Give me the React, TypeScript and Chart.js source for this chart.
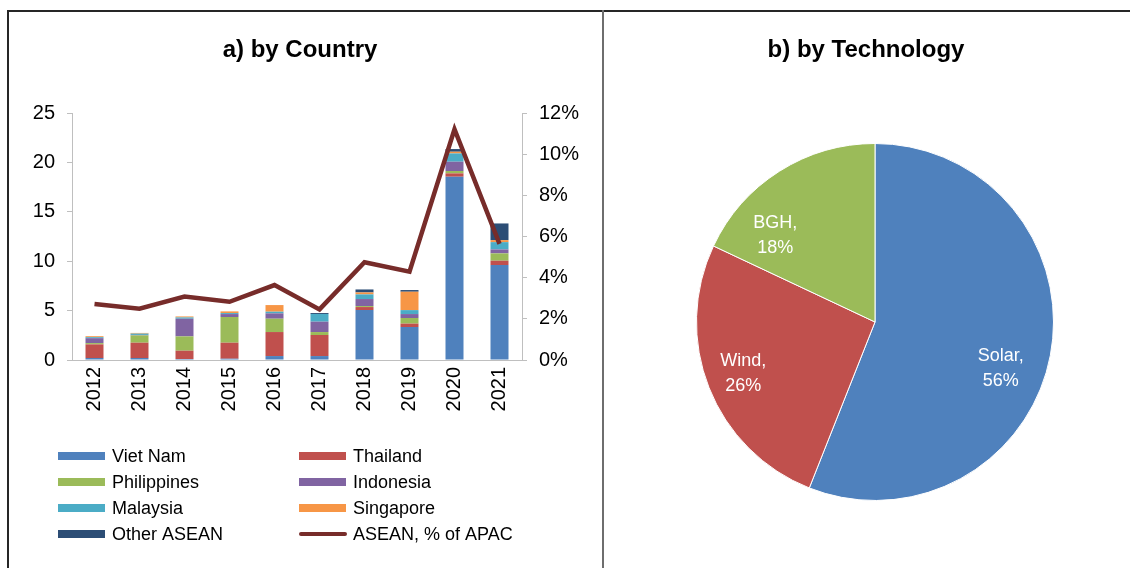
import React, { useEffect, useRef } from 'react';
import { Chart, registerables } from 'chart.js';
Chart.register(...registerables);

const FONT = '"Liberation Sans", Arial, sans-serif';

// ---- data: a) by Country ----
const years = ['2012', '2013', '2014', '2015', '2016', '2017', '2018', '2019', '2020', '2021'];
const vietNam = [0.2, 0.2, 0.1, 0.13, 0.4, 0.4, 5.06, 3.34, 18.55, 9.61];
const thailand = [1.38, 1.55, 0.84, 1.62, 2.43, 2.13, 0.3, 0.34, 0.34, 0.44];
const philippines = [0.13, 0.74, 1.45, 2.6, 1.35, 0.3, 0.1, 0.57, 0.24, 0.74];
const indonesia = [0.5, 0.05, 1.79, 0.3, 0.54, 1.05, 0.71, 0.4, 0.94, 0.4];
const malaysia = [0.1, 0.13, 0.13, 0.1, 0.17, 0.78, 0.47, 0.4, 0.84, 0.74];
const singapore = [0.1, 0.07, 0.1, 0.17, 0.67, 0.0, 0.2, 1.86, 0.17, 0.2];
const otherAsean = [0.0, 0.0, 0.0, 0.0, 0.0, 0.1, 0.3, 0.17, 0.27, 1.69];
const aseanShareOfApac = [2.72, 2.49, 3.08, 2.83, 3.64, 2.46, 4.75, 4.29, 11.21, 5.64];

const countryNames = ['Viet Nam', 'Thailand', 'Philippines', 'Indonesia', 'Malaysia', 'Singapore', 'Other ASEAN'];
const countryColors = ['#4f81bd', '#c0504d', '#9bbb59', '#8064a2', '#4bacc6', '#f79646', '#2c4d75'];
const lineName = 'ASEAN, % of APAC';
const lineColor = '#772c2a';

// ---- data: b) by Technology ----
const techLabels = ['Solar', 'Wind', 'BGH'];
const techShares = [56, 26, 18];
const techColors = ['#4f81bd', '#c0504d', '#9bbb59'];

// label placement tweaks (style only)
const labelAngleAdjust = [9.2, 0.6, -16.6];
const labelRadius = [0.75, 0.79, 0.74];

function titlePlugin(text: string, x: number, y: number) {
  return {
    id: 'pageTitle',
    afterDraw(chart: any) {
      const ctx = chart.ctx;
      ctx.save();
      ctx.font = `bold 24px ${FONT}`;
      ctx.fillStyle = '#000';
      ctx.textAlign = 'center';
      ctx.textBaseline = 'middle';
      ctx.fillText(text, x, y);
      ctx.restore();
    },
  };
}

const gridLegendPlugin = {
  id: 'gridLegend',
  afterDraw(chart: any) {
    const ctx = chart.ctx;
    const ds = chart.data.datasets;
    ctx.save();
    ds.forEach((d: any, i: number) => {
      const col = i % 2;
      const row = Math.floor(i / 2);
      const bx = col === 0 ? 49 : 290;
      const cy = 444 + row * 26;
      if (d.type === 'line') {
        ctx.strokeStyle = d.borderColor;
        ctx.lineWidth = 4;
        ctx.lineCap = 'round';
        ctx.beginPath();
        ctx.moveTo(bx + 2, cy);
        ctx.lineTo(bx + 46, cy);
        ctx.stroke();
      } else {
        ctx.fillStyle = d.backgroundColor;
        ctx.fillRect(bx, cy - 4, 47, 8);
      }
      ctx.fillStyle = '#000';
      ctx.font = `18px ${FONT}`;
      ctx.textAlign = 'left';
      ctx.textBaseline = 'middle';
      ctx.fillText(d.label, bx + 54, cy + 1);
    });
    ctx.restore();
  },
};

const pieLabelPlugin = {
  id: 'pieLabels',
  afterDatasetsDraw(chart: any) {
    const ctx = chart.ctx;
    const meta = chart.getDatasetMeta(0);
    const data = chart.data.datasets[0].data;
    const labels = chart.data.labels;
    ctx.save();
    ctx.fillStyle = '#ffffff';
    ctx.font = `18px ${FONT}`;
    ctx.textAlign = 'center';
    ctx.textBaseline = 'middle';
    meta.data.forEach((arc: any, i: number) => {
      const { x, y, startAngle, endAngle, outerRadius } = arc.getProps(
        ['x', 'y', 'startAngle', 'endAngle', 'outerRadius'],
        true
      );
      const a = (startAngle + endAngle) / 2 + (labelAngleAdjust[i] * Math.PI) / 180;
      const r = outerRadius * labelRadius[i];
      const lx = x + Math.cos(a) * r;
      const ly = y + Math.sin(a) * r;
      ctx.fillText(`${labels[i]},`, lx, ly - 12);
      ctx.fillText(`${data[i]}%`, lx, ly + 13);
    });
    ctx.restore();
  },
};

function CountryChart() {
  const ref = useRef<HTMLCanvasElement>(null);
  useEffect(() => {
    if (!ref.current) return;
    const countrySeries = [vietNam, thailand, philippines, indonesia, malaysia, singapore, otherAsean];
    const datasets: any[] = countrySeries.map((vals, i) => ({
      type: 'bar',
      label: countryNames[i],
      data: vals,
      backgroundColor: countryColors[i],
      borderWidth: 0,
      yAxisID: 'y',
      order: 1,
      barPercentage: 0.4,
      categoryPercentage: 1.0,
    }));
    datasets.push({
      type: 'line',
      label: lineName,
      data: aseanShareOfApac,
      borderColor: lineColor,
      backgroundColor: lineColor,
      borderWidth: 4.5,
      pointRadius: 0,
      tension: 0,
      yAxisID: 'y1',
      order: 0,
    });
    const axisGray = '#bfbfbf';
    const chart = new Chart(ref.current, {
      type: 'bar',
      data: { labels: years, datasets },
      options: {
        responsive: false,
        animation: false,
        devicePixelRatio: 1,
        layout: { padding: { top: 101, left: 0, right: 0, bottom: 0 } },
        plugins: { legend: { display: false }, tooltip: { enabled: false } },
        scales: {
          x: {
            stacked: true,
            grid: { display: true, drawOnChartArea: false, drawTicks: false, color: axisGray },
            border: { display: true, color: axisGray, width: 1 },
            ticks: {
              color: '#000',
              font: { family: FONT, size: 20 },
              maxRotation: 90,
              minRotation: 90,
              padding: 7,
              autoSkip: false,
            },
            afterFit: (s: any) => {
              s.height = 208;
            },
          },
          y: {
            stacked: true,
            position: 'left',
            min: 0,
            max: 25,
            grid: { display: true, drawOnChartArea: false, drawTicks: true, tickLength: 5, color: axisGray },
            border: { display: true, color: axisGray, width: 1 },
            ticks: { stepSize: 5, color: '#000', font: { family: FONT, size: 20 }, padding: 12 },
            afterFit: (s: any) => {
              s.width = 63;
            },
          },
          y1: {
            position: 'right',
            min: 0,
            max: 12,
            grid: { display: true, drawOnChartArea: false, drawTicks: true, tickLength: 5, color: axisGray },
            border: { display: true, color: axisGray, width: 1 },
            ticks: {
              stepSize: 2,
              color: '#000',
              font: { family: FONT, size: 20 },
              padding: 12,
              callback: (v: any) => `${v}%`,
            },
            afterFit: (s: any) => {
              s.width = 79;
            },
          },
        },
      } as any,
      plugins: [titlePlugin('a) by Country', 291, 38), gridLegendPlugin],
    } as any);
    return () => chart.destroy();
  }, []);
  return (
    <canvas
      ref={ref}
      width={592}
      height={556}
      style={{ position: 'absolute', left: 9, top: 12, width: 592, height: 556 }}
    />
  );
}

function TechChart() {
  const ref = useRef<HTMLCanvasElement>(null);
  useEffect(() => {
    if (!ref.current) return;
    const chart = new Chart(ref.current, {
      type: 'pie',
      data: {
        labels: techLabels,
        datasets: [
          {
            data: techShares,
            backgroundColor: techColors,
            borderColor: '#ffffff',
            borderWidth: 1,
          },
        ],
      },
      options: {
        responsive: false,
        animation: false,
        devicePixelRatio: 1,
        layout: { padding: { left: 91, right: 76, top: 131, bottom: 67 } },
        plugins: { legend: { display: false }, tooltip: { enabled: false } },
      } as any,
      plugins: [titlePlugin('b) by Technology', 261, 38), pieLabelPlugin],
    } as any);
    return () => chart.destroy();
  }, []);
  return (
    <canvas
      ref={ref}
      width={525}
      height={556}
      style={{ position: 'absolute', left: 605, top: 12, width: 525, height: 556 }}
    />
  );
}

export default function App() {
  return (
    <div
      style={{
        position: 'absolute',
        left: 0,
        top: 0,
        width: 1130,
        height: 568,
        background: '#ffffff',
        overflow: 'hidden',
      }}
    >
      <div style={{ position: 'absolute', left: 7, top: 10, width: 1123, height: 2, background: '#262626' }} />
      <div style={{ position: 'absolute', left: 7, top: 10, width: 2, height: 558, background: '#262626' }} />
      <div style={{ position: 'absolute', left: 602, top: 10, width: 2, height: 558, background: '#6e6e6e' }} />
      <CountryChart />
      <TechChart />
    </div>
  );
}
